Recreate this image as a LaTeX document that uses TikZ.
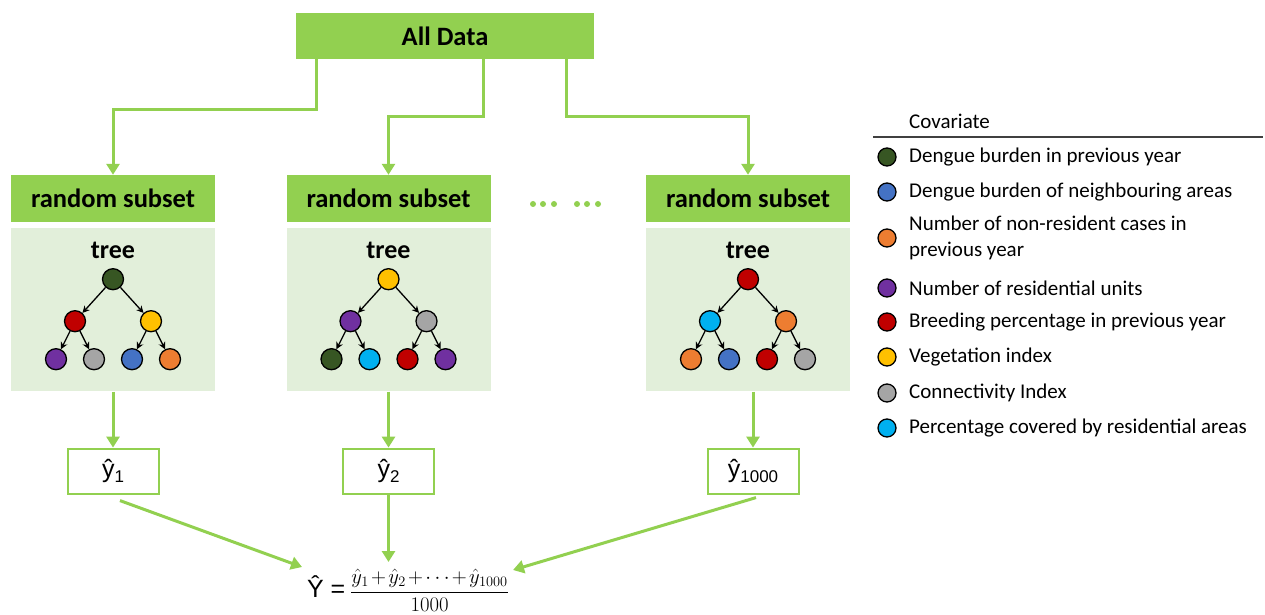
\documentclass[tikz,border=0pt]{standalone}
\usepackage{amsmath}
\usepackage{fontspec}
\setmainfont{Carlito}
\newfontfamily\arialish{Liberation Sans}
\usetikzlibrary{positioning, arrows.meta}

\definecolor{barGreen}{HTML}{92D050}
\definecolor{treeBg}{HTML}{E2EFDA}
\definecolor{covGreen}{HTML}{375623}
\definecolor{covBlue}{HTML}{4472C4}
\definecolor{covOrange}{HTML}{ED7D31}
\definecolor{covPurple}{HTML}{7030A0}
\definecolor{covRed}{HTML}{C00000}
\definecolor{covYellow}{HTML}{FFC000}
\definecolor{covGray}{HTML}{A5A5A5}
\definecolor{covCyan}{HTML}{00B0F0}

\begin{document}
\begin{tikzpicture}[x=1pt, y=1pt,
    bar/.style={fill=barGreen, minimum width=204pt, minimum height=47pt, inner sep=0pt, font=\bfseries\fontsize{26.5}{30}\selectfont},
    treebox/.style={fill=treeBg, minimum width=204pt, minimum height=163pt, inner sep=0pt},
    cov/.style={circle, draw=black, line width=1.3pt, fill=#1, minimum size=21pt, inner sep=0pt},
    branch/.style={-{Stealth[length=7pt, width=7pt]}, line width=1.3pt},
    flow/.style={draw=barGreen, line width=3pt, -{Triangle[length=11pt, width=13pt]}},
    pred/.style={draw=barGreen, line width=2pt, minimum width=91pt, minimum height=45pt, inner sep=0pt, font=\arialish\fontsize{25}{28}\selectfont},
    key/.style={anchor=west, inner sep=0pt, align=left, font=\fontsize{21}{26}\selectfont}]
  \useasboundingbox (0,0) rectangle (1265,614);

  \node[bar, minimum width=298pt, minimum height=46pt] (all) at (445,578) {All Data};
  \node[bar] (sub1) at (113,415.5) {random subset};
  \node[bar] (sub2) at (388.5,415.5) {random subset};
  \node[bar] (sub3) at (748,415.5) {random subset};
  \node[treebox, below=6pt of sub1] (tb1) {};
  \node[treebox, below=6pt of sub2] (tb2) {};
  \node[treebox, below=6pt of sub3] (tb3) {};

  \draw[flow] ([xshift=21pt]all.south west) -- ++(0,-50) -| (sub1);
  \draw[flow] ([xshift=188pt]all.south west) -- ++(0,-57) -| (sub2);
  \draw[flow] ([xshift=271pt]all.south west) -- ++(0,-57) -| (sub3);

  \foreach \x in {533,543,554,577,587,598}
    \fill[barGreen] (\x,410) circle (3);

  \foreach \t/\a/\b/\c/\d/\e/\f/\g in {1/covGreen/covRed/covYellow/covPurple/covGray/covBlue/covOrange,
      2/covYellow/covPurple/covGray/covGreen/covCyan/covRed/covPurple,
      3/covRed/covCyan/covOrange/covOrange/covBlue/covRed/covGray} {
    \node[font=\bfseries\fontsize{26}{30}\selectfont] (lbl\t) at ([yshift=-22pt]tb\t.north) {tree};
    \node[cov=\a] (r\t) at ([yshift=-51pt]tb\t.north) {};
    \node[cov=\b] (a\t) at ([xshift=-38pt, yshift=-42pt]r\t) {};
    \node[cov=\c] (b\t) at ([xshift=38pt, yshift=-42pt]r\t) {};
    \node[cov=\d] (aa\t) at ([xshift=-19pt, yshift=-38pt]a\t) {};
    \node[cov=\e] (ab\t) at ([xshift=19pt, yshift=-38pt]a\t) {};
    \node[cov=\f] (ba\t) at ([xshift=-19pt, yshift=-38pt]b\t) {};
    \node[cov=\g] (bb\t) at ([xshift=19pt, yshift=-38pt]b\t) {};
    \draw[branch] (r\t) -- (a\t);
    \draw[branch] (r\t) -- (b\t);
    \draw[branch] (a\t) -- (aa\t);
    \draw[branch] (a\t) -- (ab\t);
    \draw[branch] (b\t) -- (ba\t);
    \draw[branch] (b\t) -- (bb\t);
  }

  \node[pred, below=56pt of tb1] (y1) {ŷ\raisebox{-5pt}{\fontsize{17}{17}\selectfont 1}};
  \node[pred, below=56pt of tb2] (y2) {ŷ\raisebox{-5pt}{\fontsize{17}{17}\selectfont 2}};
  \node[pred, below=56pt of tb3, xshift=5pt] (y3) {ŷ\raisebox{-5pt}{\fontsize{17}{17}\selectfont 1000}};
  \draw[flow] (tb1) -- (y1);
  \draw[flow] (tb2) -- (y2);
  \draw[flow] (tb3.south -| y3) -- (y3);

  \node[inner sep=0pt, font=\fontsize{22}{26}\selectfont] (est) at (408,24)
    {{\arialish\fontsize{25}{28}\selectfont Ŷ =} \medmuskip=2mu $\dfrac{\hat{y}_1+\hat{y}_2+\cdots+\hat{y}_{1000}}{1000}$};
  \coordinate (tipL) at (302,47);
  \coordinate (tipM) at (y2 |- 0,52);
  \coordinate (tipR) at (513,44);
  \draw[flow] ([xshift=7pt, yshift=-6pt]y1.south) -- (tipL);
  \draw[flow] (y2) -- (tipM);
  \draw[flow] ([xshift=3pt, yshift=-3pt]y3.south) -- (tipR);

  \node[key] (head) at (909,493) {Covariate};
  \draw[line width=1.2pt, black!75] (873,477) -- (1263,477);
  \foreach \c/\y/\txt [count=\i] in {covGreen/457/{Dengue burden in previous year},
      covBlue/422/{Dengue burden of neighbouring areas},
      covOrange/376/{Number of non-resident cases in\\previous year},
      covPurple/326/{Number of residential units},
      covRed/292/{Breeding percentage in previous year},
      covYellow/257/{Vegetation index},
      covGray/221/{Connectivity Index},
      covCyan/186/{Percentage covered by residential areas}} {
    \node[cov=\c, minimum size=18pt] (k\i) at (887,\y) {};
    \node[key] (kt\i) at (909,\y) {\txt};
  }
\end{tikzpicture}
\end{document}
